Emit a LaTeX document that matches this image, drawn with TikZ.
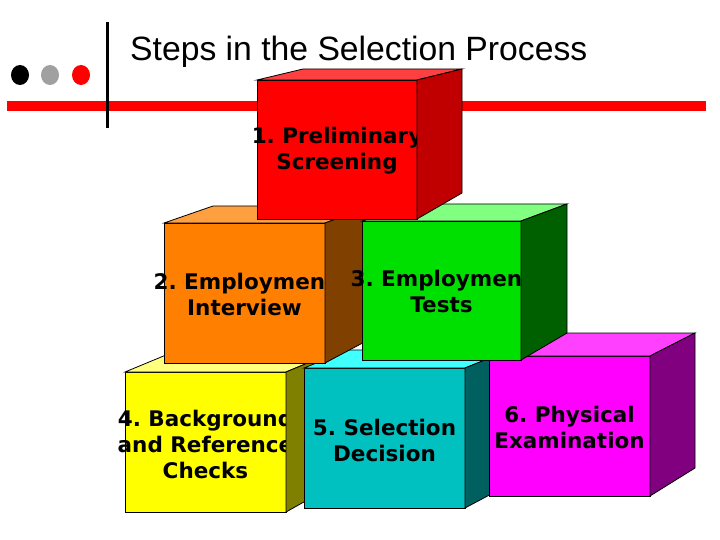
\documentclass[tikz,border=0pt]{standalone}
\usepackage{fontspec}
\setmainfont{Liberation Sans}
\newfontfamily\boxfont{DejaVu Sans}
\frenchspacing
\definecolor{fr1}{RGB}{255,0,0}\definecolor{tp1}{RGB}{255,64,64}\definecolor{sd1}{RGB}{192,0,0}
\definecolor{fr2}{RGB}{255,128,0}\definecolor{tp2}{RGB}{255,160,64}\definecolor{sd2}{RGB}{128,64,0}
\definecolor{fr3}{RGB}{0,224,0}\definecolor{tp3}{RGB}{128,255,128}\definecolor{sd3}{RGB}{0,96,0}
\definecolor{fr4}{RGB}{255,255,0}\definecolor{tp4}{RGB}{255,255,128}\definecolor{sd4}{RGB}{128,128,0}
\definecolor{fr5}{RGB}{0,192,192}\definecolor{tp5}{RGB}{64,255,255}\definecolor{sd5}{RGB}{0,96,96}
\definecolor{fr6}{RGB}{255,0,255}\definecolor{tp6}{RGB}{255,64,255}\definecolor{sd6}{RGB}{128,0,128}
\definecolor{dotgray}{RGB}{160,160,160}
\tikzset{
  face/.style={draw=black, line width=0.8pt, line join=miter},
  boxlabel/.style={align=center, inner sep=0pt, text=black,
    font=\boxfont\bfseries\frenchspacing\fontsize{21.5}{26}\selectfont},
}
\begin{document}
\begin{tikzpicture}[x=1pt,y=-1pt]
\useasboundingbox (0,0) rectangle (720,540);
\fill[white] (0,0) rectangle (720,540);
% header decoration
\fill[red] (7,101) rectangle (706,111);
\draw[line width=3pt] (107,22) -- (107,128);
\fill[black] (20,75) ellipse [x radius=9, y radius=10];
\fill[dotgray] (50,75) ellipse [x radius=9, y radius=10];
\fill[red] (81,75) ellipse [x radius=9, y radius=10];
\node[anchor=base west, inner sep=0pt, font=\fontsize{33.7}{40}\selectfont] (title) at (130,61) {Steps in the Selection Process};
% ---- box 4
\filldraw[fill=fr4, face] (125,372) rectangle (286,512);
\node[boxlabel] (b4) at (205.5,444) {4. Background\\and Reference\\Checks};
\filldraw[fill=tp4, face] (125,372) -- (166,355) -- (327,355) -- (286,372) -- cycle;
\filldraw[fill=sd4, face] (286,372) -- (327,355) -- (327,489) -- (286,512) -- cycle;
% ---- box 5
\filldraw[fill=fr5, face] (304,368) rectangle (465,508);
\node[boxlabel] (b5) at (384.5,440) {5. Selection\\Decision};
\filldraw[fill=tp5, face] (304,368) -- (349,350) -- (510,350) -- (465,368) -- cycle;
\filldraw[fill=sd5, face] (465,368) -- (510,350) -- (510,484) -- (465,508) -- cycle;
% ---- box 6
\filldraw[fill=fr6, face] (489,356) rectangle (650,496);
\node[boxlabel] (b6) at (569.5,427) {6. Physical\\Examination};
\filldraw[fill=tp6, face] (489,356) -- (535,333) -- (695,333) -- (650,356) -- cycle;
\filldraw[fill=sd6, face] (650,356) -- (695,333) -- (695,468) -- (650,496) -- cycle;
% ---- box 2
\filldraw[fill=fr2, face] (164,223) rectangle (325,363);
\node[boxlabel] (b2) at (244.5,294) {2. Employment\\Interview};
\filldraw[fill=tp2, face] (164,223) -- (213,206) -- (372,206) -- (325,223) -- cycle;
\filldraw[fill=sd2, face] (325,223) -- (372,206) -- (372,338) -- (325,363) -- cycle;
% ---- box 3
\filldraw[fill=fr3, face] (362,221) rectangle (521,360);
\node[boxlabel] (b3) at (441.5,291) {3. Employment\\Tests};
\filldraw[fill=tp3, face] (362,221) -- (408,204) -- (567,204) -- (521,221) -- cycle;
\filldraw[fill=sd3, face] (521,221) -- (567,204) -- (567,333) -- (521,360) -- cycle;
% ---- box 1
\filldraw[fill=fr1, face] (257,80) rectangle (417,219);
\node[boxlabel] (b1) at (337,151) {1. Preliminary\\Screening};
\filldraw[fill=tp1, face] (257,80) -- (303,69) -- (462,69) -- (417,80) -- cycle;
\filldraw[fill=sd1, face] (417,80) -- (462,69) -- (462,193) -- (417,219) -- cycle;
\end{tikzpicture}
\end{document}
